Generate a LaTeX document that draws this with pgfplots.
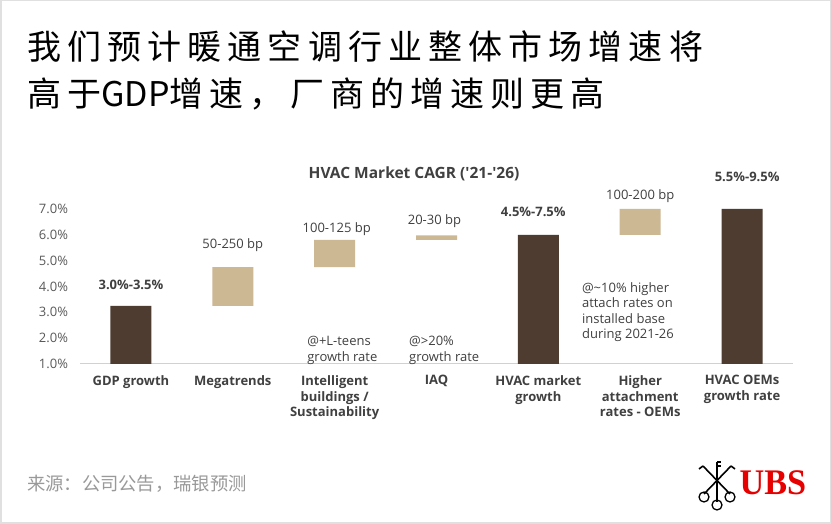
\documentclass[border=0pt]{standalone}
\usepackage{pgfplots}
\pgfplotsset{compat=1.18}
\usepackage{fontspec}
\setmainfont{Open Sans}
\newfontfamily\cjk{Noto Sans CJK SC}
\newfontfamily\cjkls[LetterSpace=18]{Noto Sans CJK SC}
\definecolor{darkb}{HTML}{4D3C2F}
\definecolor{tanb}{HTML}{CDB894}
\definecolor{txt}{HTML}{404040}
\definecolor{tickc}{HTML}{595959}
\definecolor{ubsred}{HTML}{E60000}
\begin{document}
\begin{tikzpicture}[x=1pt,y=1pt]
\useasboundingbox (0,0) rectangle (831,524);
\fill[white] (0,0) rectangle (831,524);
\draw[black!12, line width=1.5pt] (0.75,0.75) rectangle (830.25,523.25);
% title
\node[anchor=west, inner sep=0, font=\fontsize{34}{34}\selectfont] at (27,477) {\cjkls 我们预计暖通空调行业整体市场增速将};
\node[anchor=west, inner sep=0, font=\fontsize{34}{34}\selectfont] at (27,430) {\cjkls 高于\cjk GDP\cjkls 增速，厂商的增速则更高};
% footer
\node[anchor=west, inner sep=0, text=black!40, font=\fontsize{18.3}{18.3}\selectfont] at (27,40) {\cjk 来源：公司公告，瑞银预测};
% UBS logo
\node[anchor=center, inner sep=0, text=ubsred, font=\fontspec{Liberation Serif}\bfseries\fontsize{36}{36}\selectfont] at (773,41) {\scalebox{0.95}[1]{UBS}};
\begin{scope}[line width=1.6pt, black]
  \draw (717,22) -- (717,62);
  \draw (704,30) -- (731,58);
  \draw (730,30) -- (703,58);
  \draw[line width=1.3pt] (717,19) circle (5);
  \draw[line width=1.3pt] (704,27) circle (5);
  \draw[line width=1.3pt] (730,27) circle (5);
  \draw (717,58) -- (721,58) (717,62) -- (721,62);
  \draw (703,58) -- (699,55) (731,58) -- (735,55);
\end{scope}
% chart title
\node[inner sep=0, text=txt, font=\bfseries\fontsize{15.5}{15.5}\selectfont] at (414,350) {HVAC Market CAGR (\textquotesingle 21-\textquotesingle 26)};
\begin{axis}[
  at={(80pt,160pt)}, anchor=south west, scale only axis,
  width=713pt, height=155pt,
  xmin=-0.5, xmax=6.5, ymin=1, ymax=7,
  clip=false,
  ybar stacked, bar width=41pt,
  axis x line=bottom, axis y line=left,
  y axis line style={draw=none},
  x axis line style={draw=black!18, line width=1pt, -},
  major tick length=0pt,
  ytick={1,2,3,4,5,6,7},
  yticklabels={1.0\%,2.0\%,3.0\%,4.0\%,5.0\%,6.0\%,7.0\%},
  yticklabel style={font=\fontsize{13}{13}\selectfont, text=tickc, xshift=-8.5pt},
  xtick={0,1,2,3,4,5,6},
  xticklabels={GDP growth, Megatrends, {Intelligent\\buildings /\\Sustainability}, IAQ, {HVAC market\\growth}, {Higher\\attachment\\rates - OEMs}, {HVAC OEMs\\growth rate}},
  xticklabel style={font=\bfseries\fontsize{13}{15.7}\selectfont, text=txt, align=center, yshift=-8pt},
]
\addplot[draw=none, fill=none] coordinates {(0,1) (1,3.25) (2,4.75) (3,5.8) (4,1) (5,6.0) (6,1)};
\addplot[draw=none, fill=darkb] coordinates {(0,2.25) (1,0) (2,0) (3,0) (4,5.0) (5,0) (6,6.0)};
\addplot[draw=none, fill=tanb] coordinates {(0,0) (1,1.5) (2,1.05) (3,0.18) (4,0) (5,1.0) (6,0)};
% value labels
\node[text=txt, font=\bfseries\fontsize{13}{13}\selectfont] at (axis cs:0,4.06) {3.0\%-3.5\%};
\node[text=txt, font=\fontsize{13}{13}\selectfont] at (axis cs:1,5.61) {50-250 bp};
\node[text=txt, font=\fontsize{13}{13}\selectfont] at (axis cs:2.02,6.23) {100-125 bp};
\node[text=txt, font=\fontsize{13}{13}\selectfont] at (axis cs:2.98,6.54) {20-30 bp};
\node[text=txt, font=\bfseries\fontsize{13}{13}\selectfont] at (axis cs:3.95,6.88) {4.5\%-7.5\%};
\node[text=txt, font=\fontsize{13}{13}\selectfont] at (axis cs:5,7.48) {100-200 bp};
\node[text=txt, font=\bfseries\fontsize{13}{13}\selectfont] at (axis cs:6.05,8.25) {5.5\%-9.5\%};
% notes
\node[anchor=west, align=left, inner sep=0, text=txt, font=\fontsize{13}{15.6}\selectfont] at (axis cs:1.73,1.52) {@+L-teens\\growth rate};
\node[anchor=west, align=left, inner sep=0, text=txt, font=\fontsize{13}{15.6}\selectfont] at (axis cs:2.73,1.52) {@>20\%\\growth rate};
\node[anchor=west, align=left, inner sep=0, text=txt, font=\fontsize{13}{15.6}\selectfont] at (axis cs:4.427,3.01) {@\textasciitilde10\% higher\\attach rates on\\installed base\\during 2021-26};
\end{axis}
\end{tikzpicture}
\end{document}
